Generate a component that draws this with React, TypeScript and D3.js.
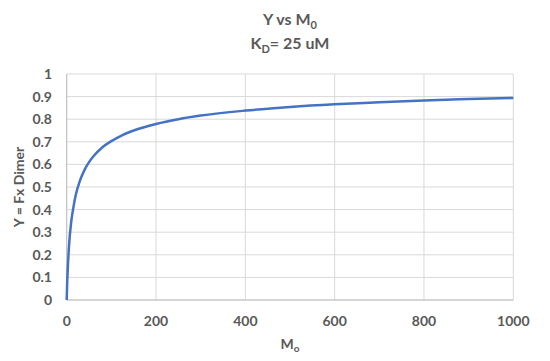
import React from "react";
import * as d3 from "d3";

const m0Values = [0, 1, 2, 5, 10, 15, 20, 30, 40, 50, 60, 80, 100, 125, 150, 200, 250, 300, 400, 500, 600, 700, 800, 900, 1000];
const yValues = [0, 0.072, 0.12, 0.234, 0.344, 0.41, 0.462, 0.53, 0.576, 0.61, 0.636, 0.676, 0.703, 0.73, 0.75, 0.779, 0.8, 0.816, 0.838, 0.854, 0.866, 0.875, 0.883, 0.889, 0.894];
const xTicks = [0, 200, 400, 600, 800, 1000];
const yTicks = [0, 0.1, 0.2, 0.3, 0.4, 0.5, 0.6, 0.7, 0.8, 0.9, 1];

const W = 550;
const H = 361;
const FONT = "Lato, 'Liberation Sans', Arial, sans-serif";
const TXT = "#595959";

export default function App() {
  const x = d3.scaleLinear().domain([0, 1000]).range([66.7, 513.3]);
  const y = d3.scaleLinear().domain([0, 1]).range([300, 74]);
  const pts: [number, number][] = m0Values.map((m, i) => [m, yValues[i]]);
  const line = d3
    .line<[number, number]>()
    .x((d) => x(d[0]))
    .y((d) => y(d[1]))
    .curve(d3.curveMonotoneX);

  return (
    <svg width={W} height={H} style={{ position: "absolute", left: 0, top: 0, background: "#fff" }}>
      <rect x={0} y={0} width={W} height={H} fill="#fff" />
      {yTicks.map((t) => (
        <line key={"gy" + t} x1={x(0)} x2={x(1000)} y1={y(t)} y2={y(t)} stroke="#d9d9d9" strokeWidth={1} />
      ))}
      {xTicks.map((t) => (
        <line key={"gx" + t} x1={x(t)} x2={x(t)} y1={y(0)} y2={y(1)} stroke="#d9d9d9" strokeWidth={1} />
      ))}
      <line x1={x(0)} x2={x(1000)} y1={y(0)} y2={y(0)} stroke="#bfbfbf" strokeWidth={1} />
      <line x1={x(0)} x2={x(0)} y1={y(0)} y2={y(1)} stroke="#bfbfbf" strokeWidth={1} />
      <path d={line(pts) || ""} fill="none" stroke="#4472C4" strokeWidth={2.5} />
      {yTicks.map((t) => (
        <text key={"ty" + t} x={52} y={y(t) + 5} textAnchor="end" fontFamily={FONT} fontWeight="bold" fontSize={14} fill={TXT}>
          {d3.format("")(+t.toFixed(1))}
        </text>
      ))}
      {xTicks.map((t) => (
        <text key={"tx" + t} x={x(t)} y={326} textAnchor="middle" fontFamily={FONT} fontWeight="bold" fontSize={14} fill={TXT}>
          {t}
        </text>
      ))}
      <text x={290} y={25} textAnchor="middle" fontFamily={FONT} fontWeight="bold" fontSize={16} fill={TXT}>
        Y vs M<tspan fontSize={11} dy={4}>0</tspan>
      </text>
      <text x={290} y={49} textAnchor="middle" fontFamily={FONT} fontWeight="bold" fontSize={16} fill={TXT}>
        K<tspan fontSize={11} dy={4}>D</tspan><tspan dy={-4}>= 25 uM</tspan>
      </text>
      <text x={290} y={349} textAnchor="middle" fontFamily={FONT} fontWeight="bold" fontSize={14} fill={TXT}>
        M<tspan fontSize={10} dy={3}>o</tspan>
      </text>
      <text transform={`translate(24,${y(0.5)}) rotate(-90)`} textAnchor="middle" fontFamily={FONT} fontWeight="bold" fontSize={14} fill={TXT}>
        Y = Fx Dimer
      </text>
    </svg>
  );
}
